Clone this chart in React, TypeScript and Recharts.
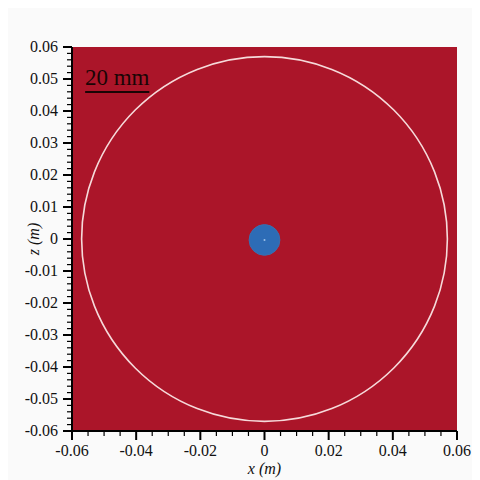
// Drop in a ring: red field, white ring outline, blue drop at the centre.
// Plane view in x/z with metre axes and a 20 mm scale bar.

import { ScatterChart, Scatter, XAxis, YAxis, ReferenceArea, ReferenceLine } from 'recharts'

const axisDomain = [-0.06, 0.06]
const xMajorTicks = [-0.06, -0.04, -0.02, 0, 0.02, 0.04, 0.06]
const yMajorTicks = [-0.06, -0.05, -0.04, -0.03, -0.02, -0.01, 0, 0.01, 0.02, 0.03, 0.04, 0.05, 0.06]
const xMinorPerMajor = 4
const yMinorPerMajor = 5

const ringX = [0]
const ringZ = [0]
const ringR = [0.057]
const dropX = [0]
const dropZ = [-0.0003]
const dropR = [0.0048]
const scaleBarX = [-0.0559, -0.0359]
const scaleBarZ = [0.0459, 0.0459]
const scaleBarLabel = '20 mm'

const FONT = '"Liberation Serif", "DejaVu Serif", serif'
const FIELD = '#ab1529'
const DROP = '#2d6cb6'

function subdivide(majors: number[], parts: number) {
  const out: number[] = []
  for (let i = 0; i < majors.length - 1; i++) {
    const a = majors[i]
    const b = majors[i + 1]
    for (let k = 0; k < parts; k++) out.push(Math.round((a + ((b - a) * k) / parts) * 1e6) / 1e6)
  }
  out.push(majors[majors.length - 1])
  return out
}

const xTicks = subdivide(xMajorTicks, xMinorPerMajor)
const yTicks = subdivide(yMajorTicks, yMinorPerMajor)

const isMajor = (v: number, majors: number[]) => majors.some((m) => Math.abs(m - v) < 1e-9)
const fmt = (v: number) => (Math.abs(v) < 1e-9 ? '0' : v.toFixed(2))
const tickText = { fontFamily: FONT, fontSize: 16, fill: '#111' }

function YTick(p: any) {
  const v = p.payload.value
  const major = isMajor(v, yMajorTicks)
  return (
    <g>
      <line x1={p.x} x2={p.x - (major ? 9 : 5)} y1={p.y} y2={p.y} stroke="#000" strokeWidth={major ? 2 : 1.2} />
      {major && (
        <text x={p.x - 14} y={p.y} dy={5} textAnchor="end" style={tickText}>
          {fmt(v)}
        </text>
      )}
    </g>
  )
}

function XTick(p: any) {
  const v = p.payload.value
  const major = isMajor(v, xMajorTicks)
  return (
    <g>
      <line x1={p.x} x2={p.x} y1={p.y} y2={p.y + (major ? 9 : 5)} stroke="#000" strokeWidth={major ? 2 : 1.2} />
      {major && (
        <text x={p.x} y={p.y + 25} textAnchor="middle" style={tickText}>
          {fmt(v)}
        </text>
      )}
    </g>
  )
}

const ellipseIn = (fill: string, stroke: string, sw: number) => (p: any) => (
  <ellipse
    cx={p.x + p.width / 2}
    cy={p.y + p.height / 2}
    rx={Math.abs(p.width) / 2}
    ry={Math.abs(p.height) / 2}
    fill={fill}
    stroke={stroke}
    strokeWidth={sw}
  />
)

export default function App() {
  const centre = dropX.map((x, i) => ({ x, z: dropZ[i] }))
  return (
    <div style={{ width: 464, height: 472, background: '#fafafa' }}>
      <ScatterChart width={464} height={472} margin={{ top: 39, right: 15, left: 0, bottom: 0 }}>
        <XAxis
          type="number"
          dataKey="x"
          domain={axisDomain}
          allowDataOverflow
          ticks={xTicks}
          interval={0}
          tickSize={0}
          tickMargin={0}
          tick={<XTick />}
          height={49}
          axisLine={{ stroke: '#000', strokeWidth: 2 }}
          label={{ value: 'x (m)', position: 'insideBottom', offset: 6, style: { fontFamily: FONT, fontSize: 16, fontStyle: 'italic', fill: '#111' } }}
        />
        <YAxis
          type="number"
          dataKey="z"
          domain={axisDomain}
          allowDataOverflow
          ticks={yTicks}
          interval={0}
          tickSize={0}
          tickMargin={0}
          tick={<YTick />}
          width={64}
          axisLine={{ stroke: '#000', strokeWidth: 2 }}
          label={{ value: 'z (m)', angle: -90, position: 'insideLeft', offset: 25, textAnchor: 'middle', style: { fontFamily: FONT, fontSize: 16, fontStyle: 'italic', fill: '#111' } }}
        />
        <ReferenceArea x1={axisDomain[0]} x2={axisDomain[1]} y1={axisDomain[0]} y2={axisDomain[1]} fill={FIELD} fillOpacity={1} stroke="none" />
        {ringR.map((r, i) => (
          <ReferenceArea
            key={`ring-${i}`}
            x1={ringX[i] - r}
            x2={ringX[i] + r}
            y1={ringZ[i] - r}
            y2={ringZ[i] + r}
            shape={ellipseIn('none', '#f6dada', 1.6)}
          />
        ))}
        {dropR.map((r, i) => (
          <ReferenceArea
            key={`drop-${i}`}
            x1={dropX[i] - r}
            x2={dropX[i] + r}
            y1={dropZ[i] - r}
            y2={dropZ[i] + r}
            shape={ellipseIn(DROP, '#3b6fae', 1)}
          />
        ))}
        <ReferenceLine
          segment={[
            { x: scaleBarX[0], y: scaleBarZ[0] },
            { x: scaleBarX[1], y: scaleBarZ[1] },
          ]}
          stroke="#1a0505"
          strokeWidth={2}
          label={{ value: scaleBarLabel, position: 'top', offset: 7, style: { fontFamily: FONT, fontSize: 23, fill: '#1a0505' } }}
        />
        <Scatter data={centre} fill="#9fc3ea" isAnimationActive={false} shape={(p: any) => <circle cx={p.cx} cy={p.cy} r={1} fill="#9fc3ea" />} />
      </ScatterChart>
    </div>
  )
}
